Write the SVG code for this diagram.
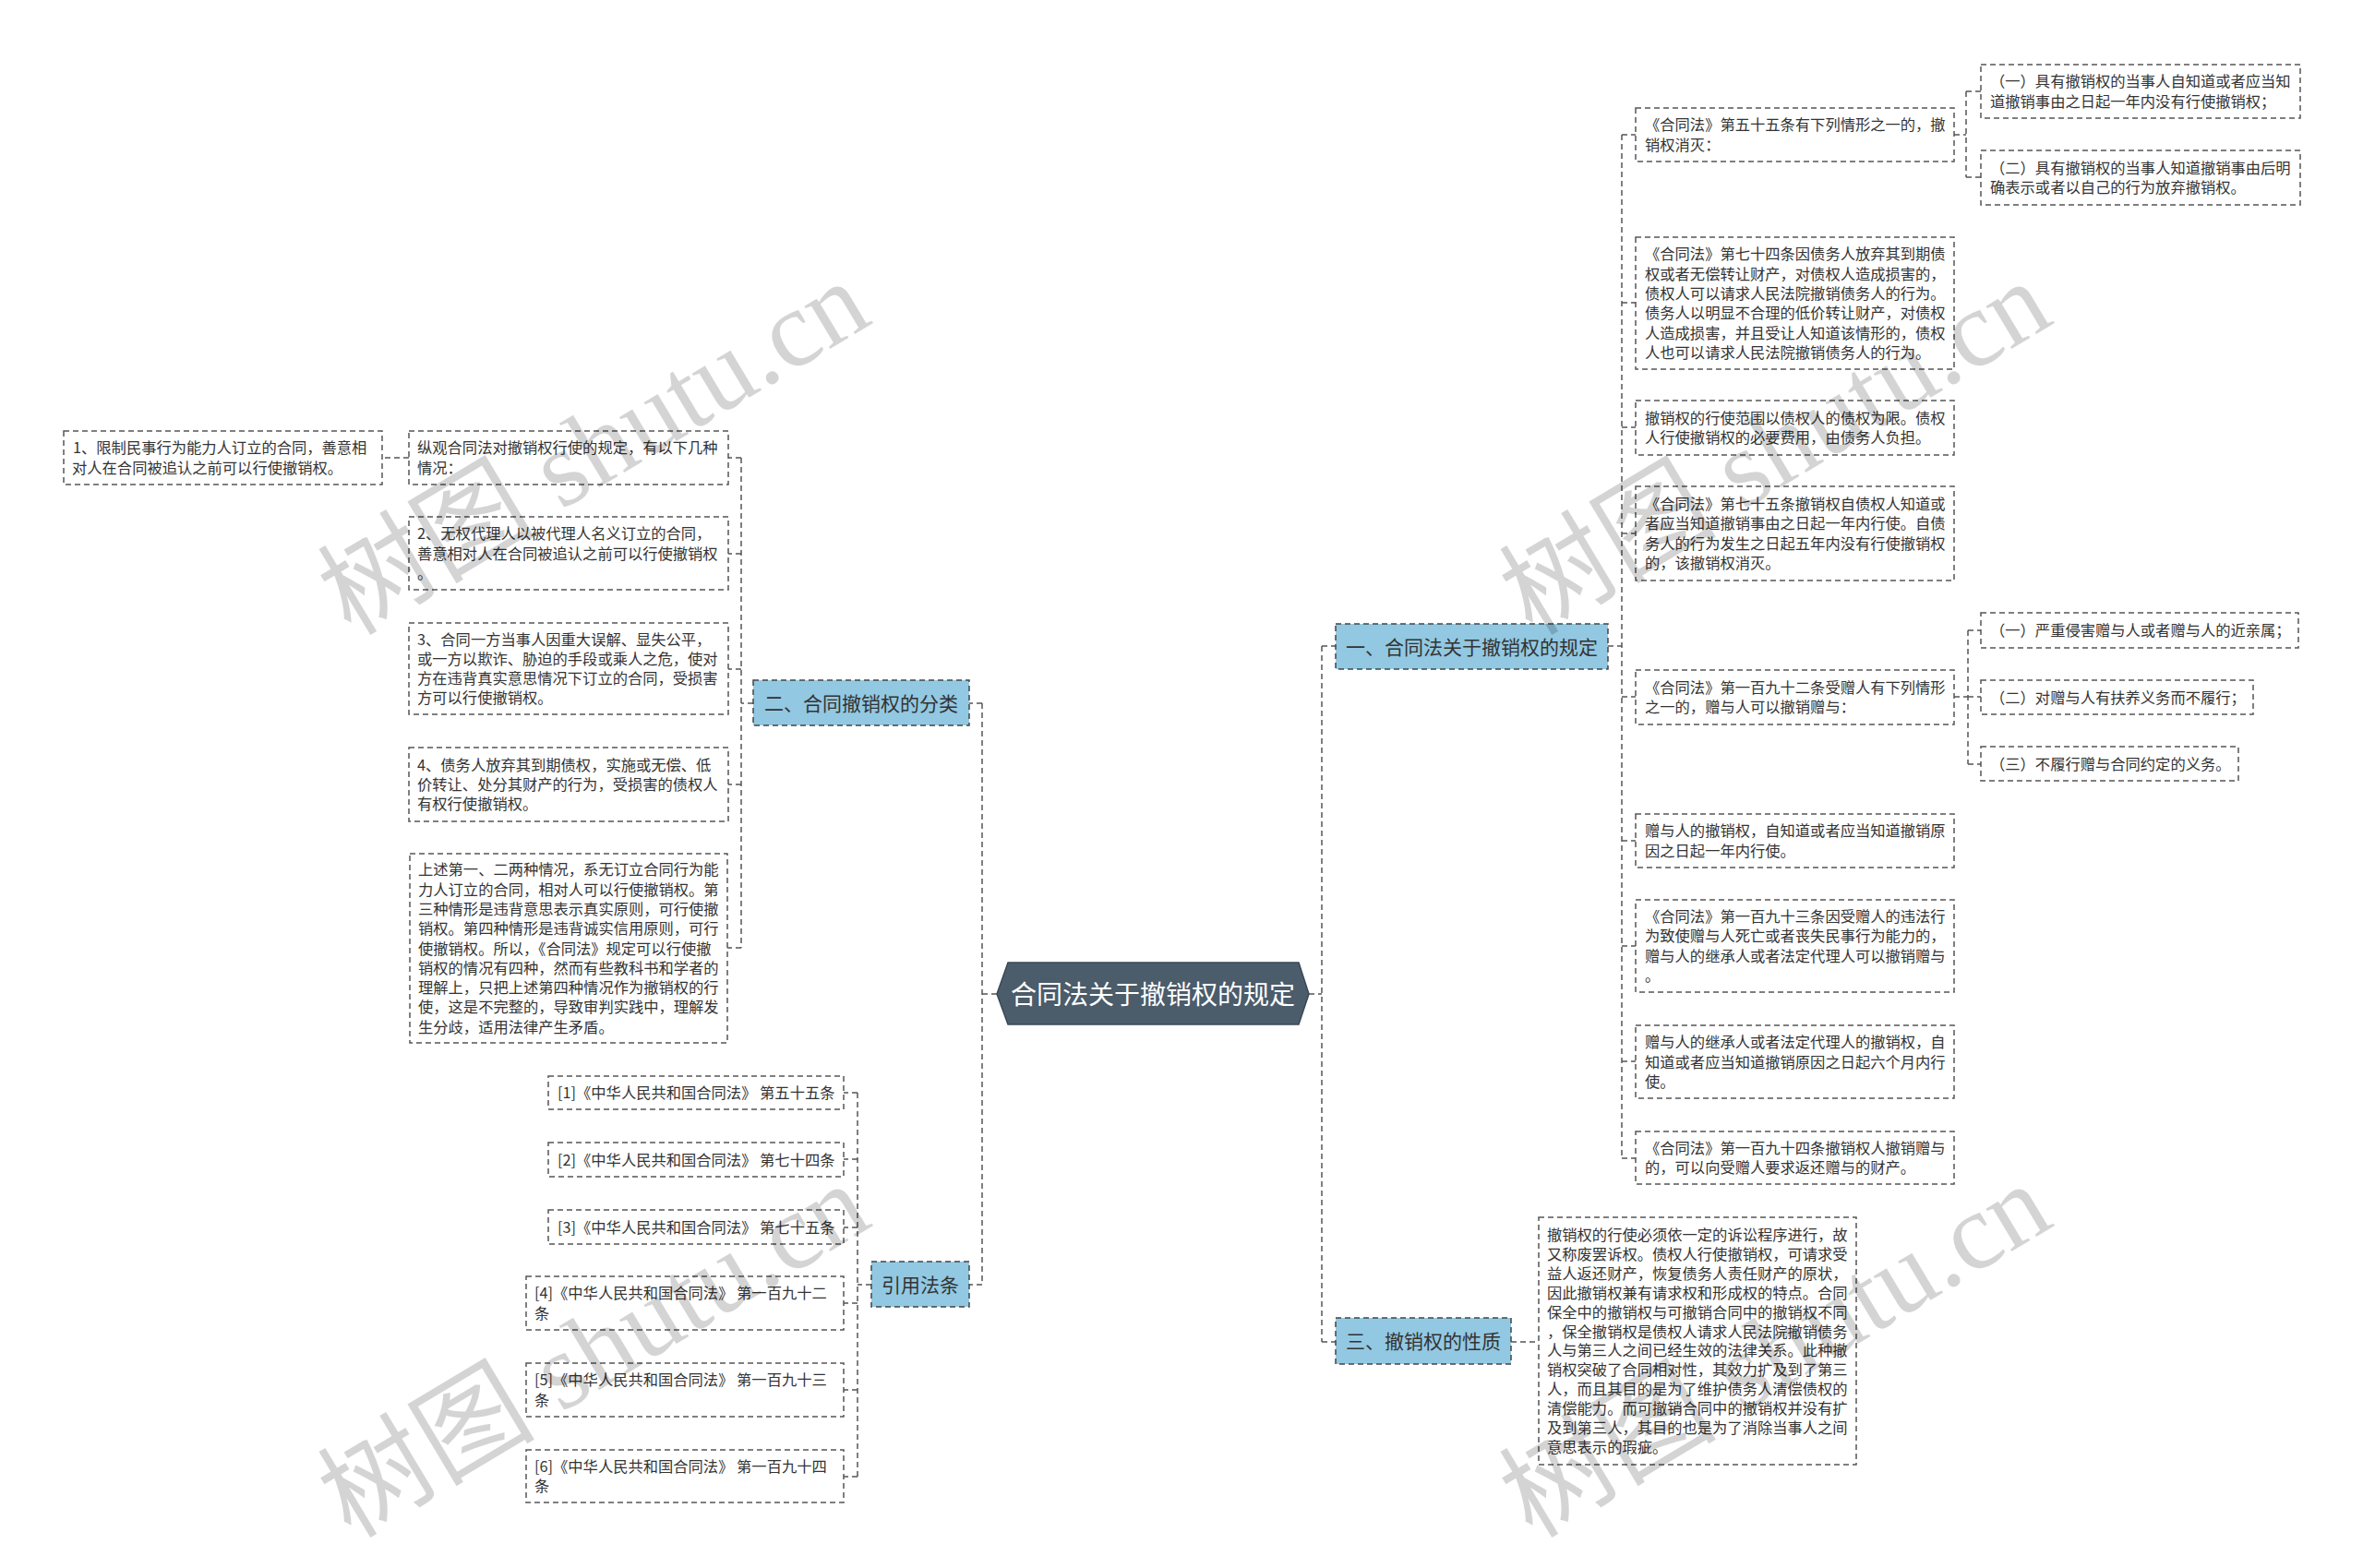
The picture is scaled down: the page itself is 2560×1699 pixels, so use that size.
<svg xmlns="http://www.w3.org/2000/svg" width="2560" height="1699" viewBox="0 0 2560 1699">
<style>
.bg{fill:#ffffff}
.leaf rect{fill:#ffffff;stroke:#555;stroke-width:1.5;stroke-dasharray:6 4}
.br rect{fill:#92c8e2;stroke:#444;stroke-width:1.5;stroke-dasharray:6 4}
text{font-family:"Noto Sans CJK SC","Microsoft YaHei",sans-serif;fill:#333}
.t{font-size:16.3px}
.bt{font-size:21px;text-anchor:middle}
.ct{font-size:28px;fill:#ffffff;text-anchor:middle}
.conn path{fill:none;stroke:#555;stroke-width:1.5;stroke-dasharray:6 4}
.wm{font-family:"Liberation Serif","Noto Sans CJK SC",serif;font-size:118px;fill:#000;fill-opacity:0.17}
</style>
<rect class="bg" x="0" y="0" width="2560" height="1699"/>

<g id="connectors" class="conn">
  <path d="M1080 1077 H1064 M1064 762 V1392 M1064 762 H1050 M1064 1392 H1050"/>
  <path d="M1418 1077 H1432 M1432 700 V1454 M1432 700 H1447 M1432 1454 H1447"/>
  <path d="M1742 700 H1757 M1757 146 V1255"/>
  <path d="M1757 146 H1772 M1757 328 H1772 M1757 463 H1772 M1757 578 H1772 M1757 755 H1772 M1757 911 H1772 M1757 1025 H1772 M1757 1150 H1772 M1757 1255 H1772"/>
  <path d="M2117 146 H2130 M2130 99 V192 M2130 99 H2146 M2130 192 H2146"/>
  <path d="M2117 755 H2132 M2132 683 V828 M2132 683 H2146 M2132 755 H2146 M2132 828 H2146"/>
  <path d="M1637 1454 H1667"/>
  <path d="M816 762 H803 M803 496 V1027 M803 496 H789 M803 600 H789 M803 725 H789 M803 850 H789 M803 1027 H788"/>
  <path d="M443 496 H414"/>
  <path d="M944 1392 H929 M929 1184 V1600 M929 1184 H914 M929 1256 H914 M929 1330 H914 M929 1412 H914 M929 1506 H914 M929 1600 H914"/>
</g>

<g id="center">
  <polygon points="1080,1077 1092,1043 1407,1043 1418,1077 1407,1110 1092,1110" fill="#4b5c6b" stroke="#3a4855" stroke-width="1.5"/>
  <text class="ct" x="1249" y="1087.5">合同法关于撤销权的规定</text>
</g>

<g id="b1" class="br"><rect x="1447" y="676" width="295" height="49"/><text class="bt" x="1594.5" y="708.5">一、合同法关于撤销权的规定</text></g>
<g id="b3" class="br"><rect x="1447" y="1428" width="190" height="50"/><text class="bt" x="1542" y="1461">三、撤销权的性质</text></g>
<g id="b2" class="br"><rect x="816" y="737" width="234" height="49"/><text class="bt" x="933" y="769.5">二、合同撤销权的分类</text></g>
<g id="b4" class="br"><rect x="944" y="1367" width="106" height="49"/><text class="bt" x="997" y="1399.5">引用法条</text></g>

<g id="r1" class="leaf"><rect x="1772" y="117" width="345" height="58"/><text class="t"><tspan x="1782" y="141.4">《合同法》第五十五条有下列情形之一的，撤</tspan><tspan x="1782" y="162.7">销权消灭：</tspan></text></g>
<g id="r1a" class="leaf"><rect x="2146" y="70" width="346" height="58"/><text class="t"><tspan x="2156" y="94.4">（一）具有撤销权的当事人自知道或者应当知</tspan><tspan x="2156" y="115.7">道撤销事由之日起一年内没有行使撤销权；</tspan></text></g>
<g id="r1b" class="leaf"><rect x="2146" y="163" width="346" height="59"/><text class="t"><tspan x="2156" y="187.9">（二）具有撤销权的当事人知道撤销事由后明</tspan><tspan x="2156" y="209.2">确表示或者以自己的行为放弃撤销权。</tspan></text></g>
<g id="r2" class="leaf"><rect x="1772" y="257" width="345" height="143"/><text class="t"><tspan x="1782" y="281.3">《合同法》第七十四条因债务人放弃其到期债</tspan><tspan x="1782" y="302.6">权或者无偿转让财产，对债权人造成损害的，</tspan><tspan x="1782" y="323.9">债权人可以请求人民法院撤销债务人的行为。</tspan><tspan x="1782" y="345.2">债务人以明显不合理的低价转让财产，对债权</tspan><tspan x="1782" y="366.5">人造成损害，并且受让人知道该情形的，债权</tspan><tspan x="1782" y="387.8">人也可以请求人民法院撤销债务人的行为。</tspan></text></g>
<g id="r3" class="leaf"><rect x="1772" y="434" width="345" height="59"/><text class="t"><tspan x="1782" y="458.9">撤销权的行使范围以债权人的债权为限。债权</tspan><tspan x="1782" y="480.2">人行使撤销权的必要费用，由债务人负担。</tspan></text></g>
<g id="r4" class="leaf"><rect x="1772" y="527" width="345" height="102"/><text class="t"><tspan x="1782" y="552">《合同法》第七十五条撤销权自债权人知道或</tspan><tspan x="1782" y="573.3">者应当知道撤销事由之日起一年内行使。自债</tspan><tspan x="1782" y="594.6">务人的行为发生之日起五年内没有行使撤销权</tspan><tspan x="1782" y="615.9">的，该撤销权消灭。</tspan></text></g>
<g id="r5" class="leaf"><rect x="1772" y="726" width="345" height="59"/><text class="t"><tspan x="1782" y="750.9">《合同法》第一百九十二条受赠人有下列情形</tspan><tspan x="1782" y="772.2">之一的，赠与人可以撤销赠与：</tspan></text></g>
<g id="r5a" class="leaf"><rect x="2146" y="664" width="344" height="38"/><text class="t"><tspan x="2156" y="689">（一）严重侵害赠与人或者赠与人的近亲属；</tspan></text></g>
<g id="r5b" class="leaf"><rect x="2146" y="737" width="295" height="37"/><text class="t"><tspan x="2156" y="761.5">（二）对赠与人有扶养义务而不履行；</tspan></text></g>
<g id="r5c" class="leaf"><rect x="2146" y="809" width="279" height="37"/><text class="t"><tspan x="2156" y="833.5">（三）不履行赠与合同约定的义务。</tspan></text></g>
<g id="r6" class="leaf"><rect x="1772" y="882" width="345" height="58"/><text class="t"><tspan x="1782" y="906.4">赠与人的撤销权，自知道或者应当知道撤销原</tspan><tspan x="1782" y="927.7">因之日起一年内行使。</tspan></text></g>
<g id="r7" class="leaf"><rect x="1772" y="975" width="345" height="100"/><text class="t"><tspan x="1782" y="999">《合同法》第一百九十三条因受赠人的违法行</tspan><tspan x="1782" y="1020.3">为致使赠与人死亡或者丧失民事行为能力的，</tspan><tspan x="1782" y="1041.6">赠与人的继承人或者法定代理人可以撤销赠与</tspan><tspan x="1782" y="1062.9">。</tspan></text></g>
<g id="r8" class="leaf"><rect x="1772" y="1111" width="345" height="79"/><text class="t"><tspan x="1782" y="1135.2">赠与人的继承人或者法定代理人的撤销权，自</tspan><tspan x="1782" y="1156.5">知道或者应当知道撤销原因之日起六个月内行</tspan><tspan x="1782" y="1177.8">使。</tspan></text></g>
<g id="r9" class="leaf"><rect x="1772" y="1226" width="345" height="57"/><text class="t"><tspan x="1782" y="1249.9">《合同法》第一百九十四条撤销权人撤销赠与</tspan><tspan x="1782" y="1271.2">的，可以向受赠人要求返还赠与的财产。</tspan></text></g>

<g id="t1" class="leaf"><rect x="1667" y="1319" width="344" height="268"/><text class="t"><tspan x="1676" y="1344">撤销权的行使必须依一定的诉讼程序进行，故</tspan><tspan x="1676" y="1364.9">又称废罢诉权。债权人行使撤销权，可请求受</tspan><tspan x="1676" y="1385.8">益人返还财产，恢复债务人责任财产的原状，</tspan><tspan x="1676" y="1406.7">因此撤销权兼有请求权和形成权的特点。合同</tspan><tspan x="1676" y="1427.6">保全中的撤销权与可撤销合同中的撤销权不同</tspan><tspan x="1676" y="1448.5">，保全撤销权是债权人请求人民法院撤销债务</tspan><tspan x="1676" y="1469.4">人与第三人之间已经生效的法律关系。此种撤</tspan><tspan x="1676" y="1490.3">销权突破了合同相对性，其效力扩及到了第三</tspan><tspan x="1676" y="1511.2">人，而且其目的是为了维护债务人清偿债权的</tspan><tspan x="1676" y="1532.1">清偿能力。而可撤销合同中的撤销权并没有扩</tspan><tspan x="1676" y="1553">及到第三人，其目的也是为了消除当事人之间</tspan><tspan x="1676" y="1573.9">意思表示的瑕疵。</tspan></text></g>

<g id="l1" class="leaf"><rect x="443" y="467" width="346" height="58"/><text class="t"><tspan x="452" y="491.4">纵观合同法对撤销权行使的规定，有以下几种</tspan><tspan x="452" y="512.7">情况：</tspan></text></g>
<g id="l1a" class="leaf"><rect x="69" y="467" width="345" height="58"/><text class="t"><tspan x="79" y="491.4">1、限制民事行为能力人订立的合同，善意相</tspan><tspan x="78" y="512.7">对人在合同被追认之前可以行使撤销权。</tspan></text></g>
<g id="l2" class="leaf"><rect x="443" y="560" width="346" height="79"/><text class="t"><tspan x="452" y="584.2">2、无权代理人以被代理人名义订立的合同，</tspan><tspan x="452" y="605.5">善意相对人在合同被追认之前可以行使撤销权</tspan><tspan x="452" y="626.8">。</tspan></text></g>
<g id="l3" class="leaf"><rect x="443" y="675" width="346" height="99"/><text class="t"><tspan x="452" y="698.5">3、合同一方当事人因重大误解、显失公平，</tspan><tspan x="452" y="719.8">或一方以欺诈、胁迫的手段或乘人之危，使对</tspan><tspan x="452" y="741.1">方在违背真实意思情况下订立的合同，受损害</tspan><tspan x="452" y="762.4">方可以行使撤销权。</tspan></text></g>
<g id="l4" class="leaf"><rect x="443" y="810" width="346" height="80"/><text class="t"><tspan x="452" y="834.7">4、债务人放弃其到期债权，实施或无偿、低</tspan><tspan x="452" y="856">价转让、处分其财产的行为，受损害的债权人</tspan><tspan x="452" y="877.3">有权行使撤销权。</tspan></text></g>
<g id="l5" class="leaf"><rect x="444" y="925" width="344" height="205"/><text class="t"><tspan x="453" y="948.3">上述第一、二两种情况，系无订立合同行为能</tspan><tspan x="453" y="969.6">力人订立的合同，相对人可以行使撤销权。第</tspan><tspan x="453" y="990.9">三种情形是违背意思表示真实原则，可行使撤</tspan><tspan x="453" y="1012.2">销权。第四种情形是违背诚实信用原则，可行</tspan><tspan x="453" y="1033.5">使撤销权。所以，《合同法》规定可以行使撤</tspan><tspan x="453" y="1054.8">销权的情况有四种，然而有些教科书和学者的</tspan><tspan x="453" y="1076.1">理解上，只把上述第四种情况作为撤销权的行</tspan><tspan x="453" y="1097.4">使，这是不完整的，导致审判实践中，理解发</tspan><tspan x="453" y="1118.7">生分歧，适用法律产生矛盾。</tspan></text></g>

<g id="c1" class="leaf"><rect x="594" y="1166" width="320" height="36"/><text class="t"><tspan x="604" y="1190">[1]《中华人民共和国合同法》 第五十五条</tspan></text></g>
<g id="c2" class="leaf"><rect x="594" y="1238" width="320" height="37"/><text class="t"><tspan x="604" y="1262.5">[2]《中华人民共和国合同法》 第七十四条</tspan></text></g>
<g id="c3" class="leaf"><rect x="594" y="1311" width="320" height="37"/><text class="t"><tspan x="604" y="1335.5">[3]《中华人民共和国合同法》 第七十五条</tspan></text></g>
<g id="c4" class="leaf"><rect x="570" y="1383" width="344" height="58"/><text class="t"><tspan x="579" y="1407.4">[4]《中华人民共和国合同法》 第一百九十二</tspan><tspan x="579" y="1428.7">条</tspan></text></g>
<g id="c5" class="leaf"><rect x="570" y="1477" width="344" height="58"/><text class="t"><tspan x="579" y="1501.4">[5]《中华人民共和国合同法》 第一百九十三</tspan><tspan x="579" y="1522.7">条</tspan></text></g>
<g id="c6" class="leaf"><rect x="570" y="1571" width="344" height="57"/><text class="t"><tspan x="579" y="1594.9">[6]《中华人民共和国合同法》 第一百九十四</tspan><tspan x="579" y="1616.2">条</tspan></text></g>

<g id="watermarks">
  <text class="wm" transform="translate(380,690) rotate(-31)">树图 shutu.cn</text>
  <text class="wm" transform="translate(380,1668) rotate(-31)">树图 shutu.cn</text>
  <text class="wm" transform="translate(1660,690) rotate(-31)">树图 shutu.cn</text>
  <text class="wm" transform="translate(1660,1668) rotate(-31)">树图 shutu.cn</text>
</g>
</svg>
